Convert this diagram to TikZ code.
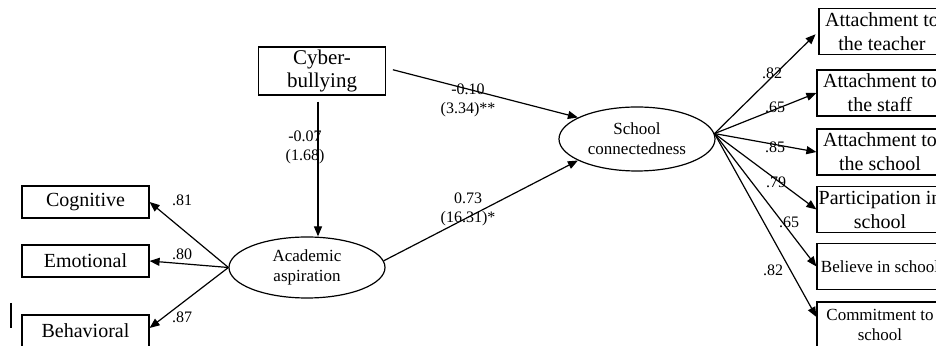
\documentclass[tikz,border=0pt]{standalone}
\usepackage{fontspec}
\setmainfont{Liberation Serif}
\usetikzlibrary{shapes.geometric,arrows.meta}

\begin{document}
\begin{tikzpicture}[x=0.5pt,y=-0.5pt,
	obs/.style={rectangle,draw,line width=0.6pt,minimum width=63.5pt,minimum height=16pt,inner sep=0pt,align=center,font=\fontsize{10}{12}\selectfont},
	ind/.style={rectangle,draw,line width=0.6pt,minimum width=63pt,minimum height=23pt,inner sep=0pt,align=center,font=\fontsize{10}{12}\selectfont},
	latent/.style={ellipse,draw,line width=0.6pt,minimum width=78pt,minimum height=31pt,inner sep=0pt,align=center,font=\fontsize{8.5}{10}\selectfont},
	coef/.style={inner sep=0pt,align=center,font=\fontsize{8}{9.5}\selectfont},
	arr/.style={line width=0.6pt,-{Triangle[length=5pt,width=4pt]}}]
	\useasboundingbox (0,0) rectangle (936,346);
	\clip (0,0) rectangle (936,346);
	\node[obs,minimum height=24pt,font=\fontsize{10.5}{11.5}\selectfont] (CyberBullying) at (322,71) {Cyber-\\bullying};
	\node[obs] (Cognitive) at (85.5,202) {Cognitive};
	\node[obs] (Emotional) at (85.5,261) {Emotional};
	\node[obs] (Behavioral) at (85.5,331) {Behavioral};
	\node[latent,minimum height=30.5pt] (Academic) at (307,267.5) {Academic\\aspiration};
	\node[latent,minimum height=32pt] (School) at (637,139) {School\\connectedness};
	\node[ind] (Teacher) at (882,31.5) {Attachment to\\the teacher};
	\node[ind] (Staff) at (880,93) {Attachment to\\the staff};
	\node[ind] (SchoolAtt) at (880,152) {Attachment to\\the school};
	\node[ind] (Participation) at (880,209.5) {Participation in\\school};
	\node[ind,font=\fontsize{8.5}{10}\selectfont] (Believe) at (880,266.5) {Believe in school};
	\node[ind,font=\fontsize{8.5}{10}\selectfont] (Commitment) at (880,325) {Commitment to\\school};
	% structural paths
	\draw[arr,shorten <=3pt] ([xshift=-2pt]CyberBullying.south) -- ([xshift=-2pt]CyberBullying.south |- Academic.north);
	\draw[arr,shorten <=3.5pt] ([yshift=1.5pt]CyberBullying.east) -- (School.160);
	\draw[arr] (Academic.5) -- (School.200);
	% measurement paths
	\draw[arr] (Academic.west) -- (Cognitive.east);
	\draw[arr] (Academic.west) -- (Emotional.east);
	\draw[arr] (Academic.west) -- ([yshift=1.5pt]Behavioral.east);
	\draw[arr,shorten >=2pt] (School.4) -- (Teacher.west);
	\draw[arr] (School.4) -- (Staff.west);
	\draw[arr] (School.4) -- (SchoolAtt.west);
	\draw[arr] (School.4) -- (Participation.west);
	\draw[arr] (School.4) -- (Believe.west);
	\draw[arr] (School.4) -- ([yshift=4pt]Commitment.west);
	% coefficients
	\node[coef] (cCA) at (305,147) {-0.07\\(1.68)};
	\node[coef] (cCS) at (468,100) {-0.10\\(3.34)**};
	\node[coef] (cAS) at (468,209) {0.73\\(16.31)*};
	\node[coef] (cCog) at (182,200) {.81};
	\node[coef] (cEmo) at (182,254) {.80};
	\node[coef] (cBeh) at (182,317) {.87};
	\node[coef] (cTea) at (772,73) {.82};
	\node[coef] (cSta) at (775,107) {.65};
	\node[coef] (cSch) at (775,147) {.85};
	\node[coef] (cPar) at (776,182) {.79};
	\node[coef] (cBel) at (789,222) {.65};
	\node[coef] (cCom) at (773,270) {.82};
	\draw[line width=0.6pt] (11,303) -- (11,328);
\end{tikzpicture}
\end{document}
